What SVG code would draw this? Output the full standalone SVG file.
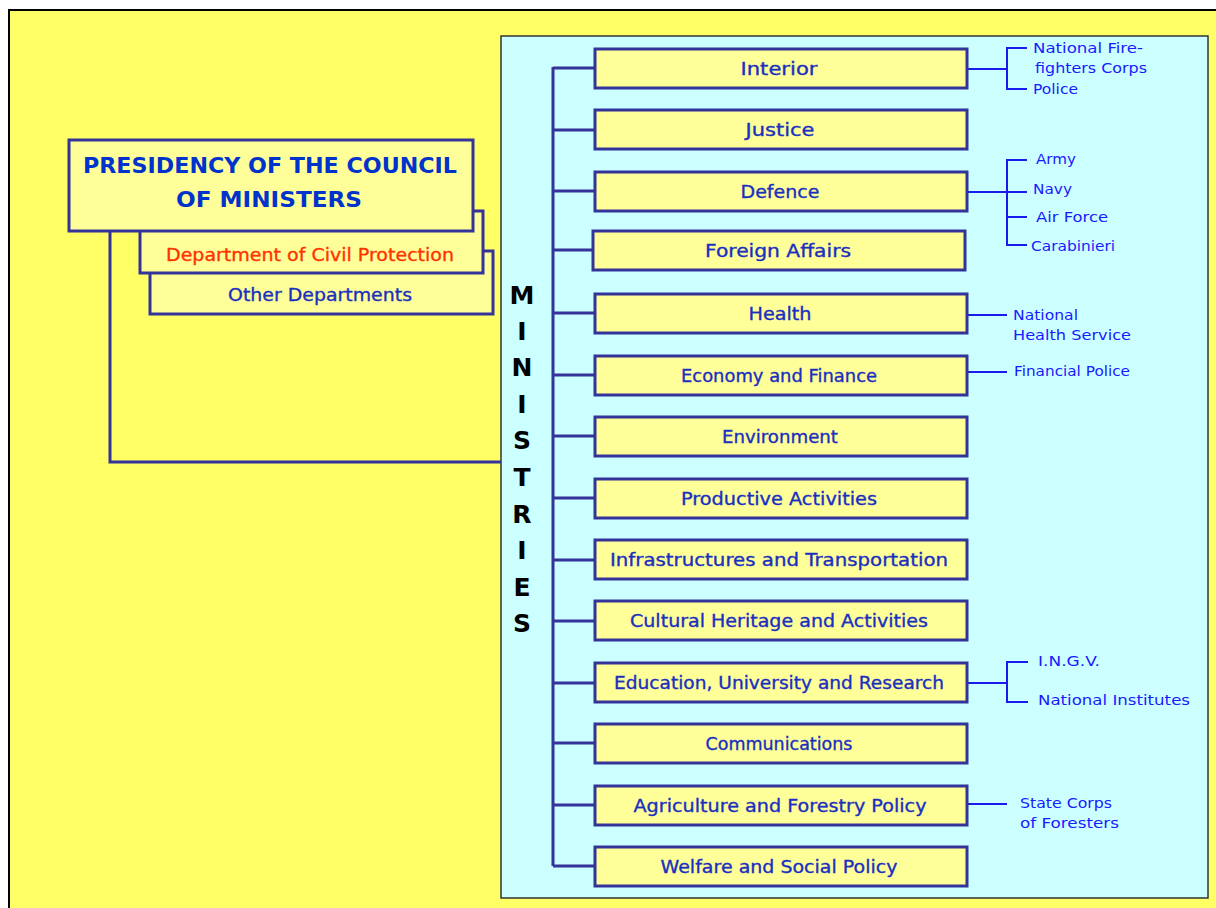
<svg xmlns="http://www.w3.org/2000/svg" width="1216" height="908" viewBox="0 0 1216 908">
<defs>
<style>
.box{fill:#FFFF99;stroke:#333399;stroke-width:3}
.mt{font-family:"DejaVu Sans","Liberation Sans",sans-serif;font-size:17.5px;fill:#1a2fc0;stroke:#1a2fc0;stroke-width:0.35;text-anchor:middle;dominant-baseline:central}
.st{font-family:"DejaVu Sans","Liberation Sans",sans-serif;font-size:14.5px;fill:#1a1aff;dominant-baseline:central}
.bus{fill:none;stroke:#333399;stroke-width:3}
.sub{fill:none;stroke:#1a1aee;stroke-width:2}
.let{font-family:"DejaVu Sans","Liberation Sans",sans-serif;font-size:25px;font-weight:bold;fill:#000;text-anchor:middle;dominant-baseline:central}
</style>
</defs>
<rect x="0" y="0" width="1216" height="908" fill="#ffffff"/>
<rect x="9" y="10" width="1220" height="910" fill="#FFFF66" stroke="#000" stroke-width="2"/>
<rect x="501" y="36" width="707" height="862" fill="#CCFFFF" stroke="#333333" stroke-width="1.5"/>

<g id="connectors">
<path class="bus" d="M110,231 V462 H501"/>
<path class="bus" d="M553,67 V866"/>
<path class="bus" d="M553,68 H595 M553,130 H595 M553,191 H595 M553,250 H593 M553,313 H595 M553,375 H595 M553,436 H595 M553,498 H595 M553,560 H595 M553,621 H595 M553,683 H595 M553,743 H595 M553,805 H595 M553,866 H595"/>
<path class="sub" d="M967,69 H1007 M1027,48 H1007 V89 H1027"/>
<path class="sub" d="M967,192 H1027 M1027,160 H1007 V245 H1027 M1007,217 H1027"/>
<path class="sub" d="M967,315 H1007"/>
<path class="sub" d="M967,372 H1007"/>
<path class="sub" d="M967,683 H1007 M1028,662 H1007 V702 H1028"/>
<path class="sub" d="M967,804 H1007"/>
</g>

<g id="other-departments">
<rect class="box" x="150" y="251" width="343" height="63"/>
<text class="mt" x="320" y="295" textLength="184" lengthAdjust="spacingAndGlyphs">Other Departments</text>
</g>
<g id="civil-protection">
<rect class="box" x="140" y="211" width="343" height="62"/>
<text class="mt" x="310" y="255" textLength="288" lengthAdjust="spacingAndGlyphs" style="fill:#ff3300;stroke:#ff3300">Department of Civil Protection</text>
</g>
<g id="presidency">
<rect class="box" x="69" y="140" width="404" height="91"/>
<text class="mt" x="270" y="166" textLength="374" lengthAdjust="spacingAndGlyphs" style="font-size:21px;font-weight:bold;fill:#0033cc;stroke:none">PRESIDENCY OF THE COUNCIL</text>
<text class="mt" x="269" y="200" textLength="186" lengthAdjust="spacingAndGlyphs" style="font-size:21px;font-weight:bold;fill:#0033cc;stroke:none">OF MINISTERS</text>
</g>

<g id="ministries-label">
<text class="let" x="522" y="295">M</text>
<text class="let" x="522" y="331">I</text>
<text class="let" x="522" y="367">N</text>
<text class="let" x="522" y="404">I</text>
<text class="let" x="522" y="440">S</text>
<text class="let" x="522" y="477">T</text>
<text class="let" x="522" y="514">R</text>
<text class="let" x="522" y="550">I</text>
<text class="let" x="522" y="587">E</text>
<text class="let" x="522" y="623">S</text>
</g>

<g id="m-interior"><rect class="box" x="595" y="49" width="372" height="39"/><text class="mt" x="779" y="69" textLength="77" lengthAdjust="spacingAndGlyphs">Interior</text></g>
<g id="m-justice"><rect class="box" x="595" y="110" width="372" height="39"/><text class="mt" x="780" y="130" textLength="69" lengthAdjust="spacingAndGlyphs">Justice</text></g>
<g id="m-defence"><rect class="box" x="595" y="172" width="372" height="39"/><text class="mt" x="780" y="192" textLength="79" lengthAdjust="spacingAndGlyphs">Defence</text></g>
<g id="m-foreign"><rect class="box" x="593" y="231" width="372" height="39"/><text class="mt" x="778" y="251" textLength="146" lengthAdjust="spacingAndGlyphs">Foreign Affairs</text></g>
<g id="m-health"><rect class="box" x="595" y="294" width="372" height="39"/><text class="mt" x="780" y="314" textLength="63" lengthAdjust="spacingAndGlyphs">Health</text></g>
<g id="m-economy"><rect class="box" x="595" y="356" width="372" height="39"/><text class="mt" x="779" y="376" textLength="196" lengthAdjust="spacingAndGlyphs">Economy and Finance</text></g>
<g id="m-environment"><rect class="box" x="595" y="417" width="372" height="39"/><text class="mt" x="780" y="437" textLength="116" lengthAdjust="spacingAndGlyphs">Environment</text></g>
<g id="m-productive"><rect class="box" x="595" y="479" width="372" height="39"/><text class="mt" x="779" y="499" textLength="196" lengthAdjust="spacingAndGlyphs">Productive Activities</text></g>
<g id="m-infrastructures"><rect class="box" x="595" y="540" width="372" height="39"/><text class="mt" x="779" y="560" textLength="338" lengthAdjust="spacingAndGlyphs">Infrastructures and Transportation</text></g>
<g id="m-cultural"><rect class="box" x="595" y="601" width="372" height="39"/><text class="mt" x="779" y="621" textLength="298" lengthAdjust="spacingAndGlyphs">Cultural Heritage and Activities</text></g>
<g id="m-education"><rect class="box" x="595" y="663" width="372" height="39"/><text class="mt" x="779" y="683" textLength="330" lengthAdjust="spacingAndGlyphs">Education, University and Research</text></g>
<g id="m-communications"><rect class="box" x="595" y="724" width="372" height="39"/><text class="mt" x="779" y="744" textLength="147" lengthAdjust="spacingAndGlyphs">Communications</text></g>
<g id="m-agriculture"><rect class="box" x="595" y="786" width="372" height="39"/><text class="mt" x="780" y="806" textLength="293" lengthAdjust="spacingAndGlyphs">Agriculture and Forestry Policy</text></g>
<g id="m-welfare"><rect class="box" x="595" y="847" width="372" height="39"/><text class="mt" x="779" y="867" textLength="237" lengthAdjust="spacingAndGlyphs">Welfare and Social Policy</text></g>

<g id="sub-interior">
<text class="st" x="1033" y="48" textLength="110" lengthAdjust="spacingAndGlyphs">National Fire-</text>
<text class="st" x="1035" y="68" textLength="112" lengthAdjust="spacingAndGlyphs">fighters Corps</text>
<text class="st" x="1033" y="89" textLength="45" lengthAdjust="spacingAndGlyphs">Police</text>
</g>
<g id="sub-defence">
<text class="st" x="1036" y="159" textLength="40" lengthAdjust="spacingAndGlyphs">Army</text>
<text class="st" x="1033" y="189" textLength="39" lengthAdjust="spacingAndGlyphs">Navy</text>
<text class="st" x="1036" y="217" textLength="72" lengthAdjust="spacingAndGlyphs">Air Force</text>
<text class="st" x="1031" y="246" textLength="84" lengthAdjust="spacingAndGlyphs">Carabinieri</text>
</g>
<g id="sub-health">
<text class="st" x="1013" y="315" textLength="65" lengthAdjust="spacingAndGlyphs">National</text>
<text class="st" x="1013" y="335" textLength="118" lengthAdjust="spacingAndGlyphs">Health Service</text>
</g>
<g id="sub-economy">
<text class="st" x="1014" y="371" textLength="116" lengthAdjust="spacingAndGlyphs">Financial Police</text>
</g>
<g id="sub-education">
<text class="st" x="1038" y="661" textLength="62" lengthAdjust="spacingAndGlyphs">I.N.G.V.</text>
<text class="st" x="1038" y="700" textLength="152" lengthAdjust="spacingAndGlyphs">National Institutes</text>
</g>
<g id="sub-agriculture">
<text class="st" x="1020" y="803" textLength="92" lengthAdjust="spacingAndGlyphs">State Corps</text>
<text class="st" x="1020" y="823" textLength="99" lengthAdjust="spacingAndGlyphs">of Foresters</text>
</g>
</svg>
